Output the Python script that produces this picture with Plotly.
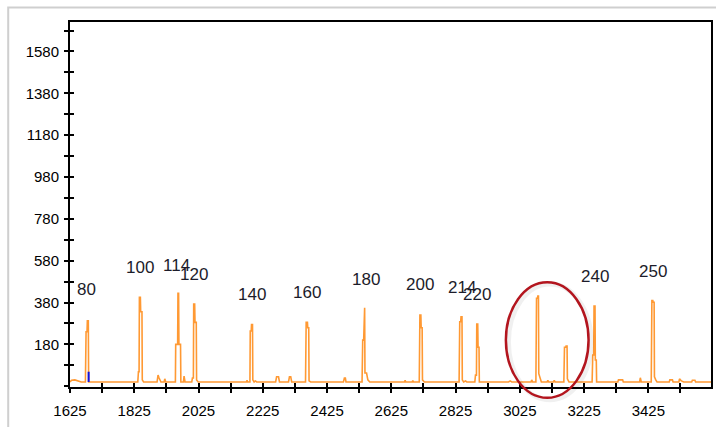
import plotly.graph_objects as go

# signal trace (scan point, RFU)
sig_x = [1625, 1630, 1640, 1648, 1652, 1660,
         1673, 1675, 1678, 1679, 1682, 1683, 1690,
         1836, 1838, 1840, 1841, 1844, 1845, 1849, 1850, 1854,
         1896, 1899, 1902, 1905, 1908, 1918, 1920, 1923,
         1953, 1954, 1960, 1961, 1963, 1964, 1969, 1970, 1978, 1980, 1983,
         2004, 2006, 2009, 2010, 2013, 2014, 2018, 2019, 2024,
         2174, 2176, 2178, 2185, 2186, 2189, 2190, 2193, 2194, 2198, 2202, 2206,
         2265, 2268, 2274, 2277, 2305, 2308, 2312, 2315,
         2358, 2360, 2364, 2365, 2368, 2369, 2374,
         2476, 2479, 2482, 2484,
         2534, 2536, 2539, 2540, 2542, 2543, 2548, 2552, 2558,
         2666, 2668, 2670, 2690, 2692, 2694,
         2712, 2714, 2717, 2718, 2721, 2722, 2728,
         2836, 2838, 2841, 2842, 2845, 2846, 2850, 2856, 2860,
         2885, 2887, 2890, 2891, 2894, 2895, 2898, 2899, 2905,
         2990, 2995, 3000, 3060, 3062, 3065,
         3075, 3077, 3080, 3081, 3083, 3084, 3088, 3092,
         3110, 3112, 3115, 3130, 3132, 3135,
         3162, 3164, 3168, 3169, 3172, 3173, 3178,
         3250, 3252, 3255, 3256, 3259, 3260, 3263, 3264,
         3330, 3332, 3345, 3347, 3398, 3400, 3403,
         3434, 3436, 3439, 3440, 3443, 3444, 3448, 3452,
         3490, 3492, 3500, 3502, 3520, 3522, 3528, 3535,
         3560, 3562, 3570, 3572, 3620]
sig_y = [0, 8, 10, 5, 5, 0,
         0, 240, 240, 293, 293, 0, 0,
         0, 49, 49, 405, 405, 336, 336, 10, 0,
         0, 33, 20, 10, 0, 0, 15, 0,
         0, 180, 180, 424, 424, 180, 180, 0, 0, 28, 0,
         0, 19, 19, 373, 373, 285, 285, 10, 0,
         0, 8, 0, 0, 244, 244, 274, 274, 10, 0, 5, 0,
         0, 25, 25, 0, 0, 25, 25, 0,
         0, 285, 285, 259, 259, 5, 0,
         0, 19, 19, 0,
         0, 200, 200, 355, 355, 43, 43, 10, 0,
         0, 8, 0, 0, 6, 0,
         0, 320, 320, 259, 259, 10, 0,
         0, 288, 288, 312, 312, 10, 0, 5, 0,
         0, 33, 33, 277, 277, 166, 166, 0, 0,
         0, 5, 0, 0, 10, 0,
         0, 400, 400, 411, 411, 40, 15, 0,
         0, 8, 0, 0, 8, 0,
         0, 166, 166, 172, 172, 15, 0,
         0, 129, 129, 363, 363, 105, 105, 0,
         0, 10, 10, 0, 0, 20, 0,
         0, 389, 389, 381, 381, 25, 10, 0,
         0, 10, 10, 0, 0, 15, 5, 0,
         0, 8, 8, 0, 0]

# blue marker near the 80 peak
marker_x = [1683, 1683]
marker_y = [0, 49]

# size labels and their positions
label_text = ["80", "100", "114", "120", "140", "160", "180", "200", "214", "220", "240", "250"]
label_x = [1677, 1843, 1958, 2010, 2190, 2362, 2545, 2715, 2845, 2893, 3258, 3438]
label_y = [440, 548, 559, 512, 419, 427, 492, 464, 451, 416, 503, 527]

x_ticks = [1625, 1825, 2025, 2225, 2425, 2625, 2825, 3025, 3225, 3425]
y_ticks = [180, 380, 580, 780, 980, 1180, 1380, 1580]

X_RANGE = [1625, 3620]
Y_RANGE = [-24, 1721]
FONT = "Arial, Liberation Sans, sans-serif"

fig = go.Figure()
fig.add_trace(go.Scatter(x=sig_x, y=sig_y, mode="lines",
                         line=dict(color="#FF9933", width=1.6), hoverinfo="skip"))
fig.add_trace(go.Scatter(x=marker_x, y=marker_y, mode="lines",
                         line=dict(color="#1010E0", width=2), hoverinfo="skip"))
# empty trace so the overlay axes (inner half of the crossing ticks) get drawn
fig.add_trace(go.Scatter(x=[], y=[], xaxis="x2", yaxis="y2"))

for t, x, y in zip(label_text, label_x, label_y):
    fig.add_annotation(x=x, y=y, text=t, showarrow=False,
                       font=dict(family=FONT, size=17, color="#1c1c2a"))

# light outer frame
fig.add_shape(type="rect", xref="paper", yref="paper",
              x0=-0.0964, x1=1.2, y0=-0.3, y1=1.0397,
              line=dict(color="#cfcfcf", width=2), layer="below")

# red ellipse with a soft shadow
fig.add_shape(type="circle", xref="paper", yref="paper",
              x0=0.684, x1=0.813, y0=-0.035, y1=0.282,
              line=dict(color="rgba(0,0,0,0.06)", width=5))
fig.add_shape(type="circle", xref="paper", yref="paper",
              x0=0.680, x1=0.809, y0=-0.0296, y1=0.287,
              line=dict(color="#B3151E", width=2.5))

tick_style = dict(ticks="outside", ticklen=4, tickcolor="black", tickwidth=1.5)
inner_style = dict(ticks="inside", ticklen=4, tickcolor="black", tickwidth=1.5,
                   showticklabels=False, showgrid=False, zeroline=False, showline=False)

fig.update_layout(
    width=716, height=427,
    margin=dict(l=70, r=3, t=22, b=40),
    plot_bgcolor="white", paper_bgcolor="white",
    showlegend=False,
    xaxis=dict(range=X_RANGE, tickmode="array", tickvals=x_ticks,
               minor=dict(tick0=1625, dtick=100, **tick_style),
               showline=True, linecolor="black", linewidth=2, mirror=True,
               showgrid=False, zeroline=False, ticklabelstandoff=5,
               tickfont=dict(family=FONT, size=15, color="black"), **tick_style),
    yaxis=dict(range=Y_RANGE, tickmode="array", tickvals=y_ticks,
               minor=dict(tick0=180, dtick=100, **tick_style),
               showline=True, linecolor="black", linewidth=2, mirror=True,
               showgrid=False, zeroline=False, ticklabelstandoff=2,
               tickfont=dict(family=FONT, size=15, color="black"), **tick_style),
    xaxis2=dict(range=X_RANGE, overlaying="x", side="bottom", tickmode="linear",
                tick0=1625, dtick=100, **inner_style),
    yaxis2=dict(range=Y_RANGE, overlaying="y", side="left", tickmode="linear",
                tick0=180, dtick=100, **inner_style),
)

fig.write_html("out.html", config={"displayModeBar": False},
               post_script="document.body.style.margin = '0';")
